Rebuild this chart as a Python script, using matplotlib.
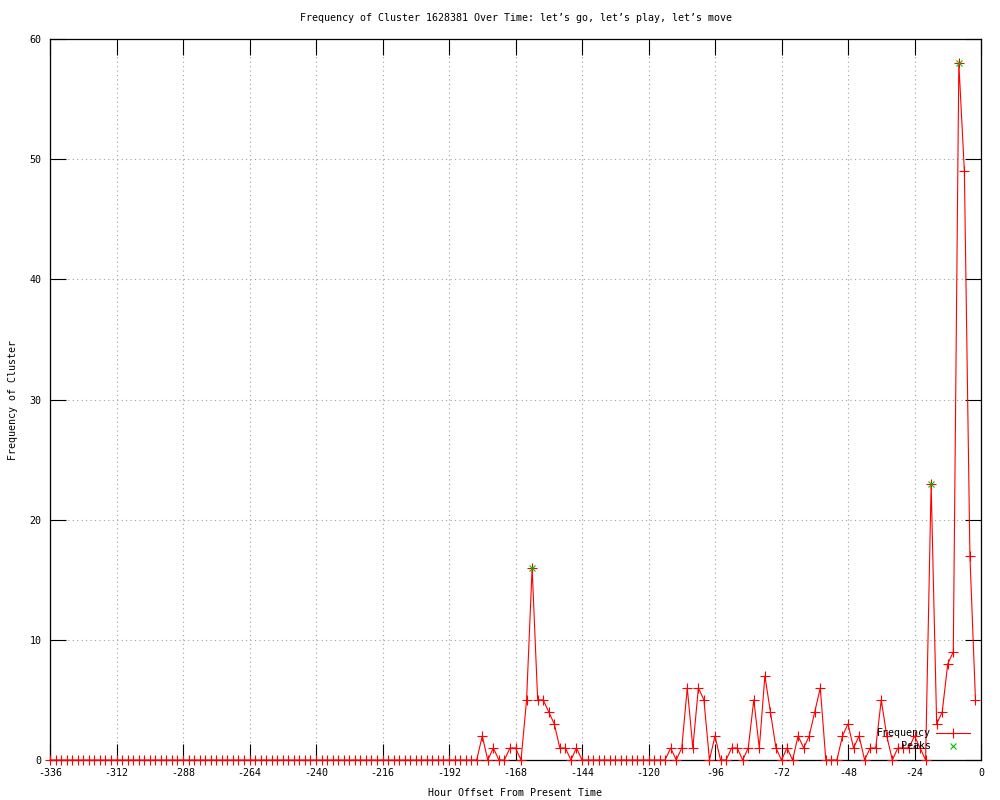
import matplotlib
matplotlib.use("Agg")
import matplotlib.pyplot as plt
import numpy as np

plt.rcParams['font.family'] = ['DejaVu Sans Mono']
plt.rcParams['axes.unicode_minus'] = False

# hours before now, one sample every 2 hours
hours = np.arange(-336, 0, 2)
freq = [
    0, 0, 0, 0, 0, 0, 0, 0, 0, 0, 0, 0, 0,      # -336 .. -312
    0, 0, 0, 0, 0, 0, 0, 0, 0, 0, 0, 0,         # -310 .. -288
    0, 0, 0, 0, 0, 0, 0, 0, 0, 0, 0, 0,         # -286 .. -264
    0, 0, 0, 0, 0, 0, 0, 0, 0, 0, 0, 0,         # -262 .. -240
    0, 0, 0, 0, 0, 0, 0, 0, 0, 0, 0, 0,         # -238 .. -216
    0, 0, 0, 0, 0, 0, 0, 0, 0, 0, 0, 0,         # -214 .. -192
    0, 0, 0, 0, 0,                              # -190 .. -182
    2, 0, 1, 0, 0, 1, 1, 0, 5, 16, 5, 5, 4,     # -180 .. -156
    3, 1, 1, 0, 1, 0,                           # -154 .. -144
    0, 0, 0, 0, 0, 0, 0, 0, 0, 0, 0, 0, 0, 0, 0,  # -142 .. -114
    1, 0, 1, 6, 1, 6, 5, 0, 2, 0, 0, 1, 1,      # -112 .. -88
    0, 1, 5, 1, 7, 4, 1, 0, 1, 0, 2, 1, 2,      # -86 .. -62
    4, 6, 0, 0, 0, 2, 3, 1, 2, 0, 1, 1, 5,      # -60 .. -36
    2, 0, 1, 1, 1, 2, 1, 0, 23, 3, 4, 8, 9,     # -34 .. -10
    58, 49, 17, 5,                              # -8 .. -2
]

peak_hours = [-162, -18, -8]
peak_vals = [16, 23, 58]

title = "Frequency of Cluster 1628381 Over Time: let\u2019s go, let\u2019s play, let\u2019s move"

fs = 7.2
fig = plt.figure(figsize=(10, 8), dpi=100)
ax = fig.add_axes([0.05, 0.05, 0.931, 0.90125])

ax.plot(hours, freq, color='red', lw=0.8, marker='+', ms=6.5, mew=0.8,
        label='Frequency', clip_on=False, zorder=3)
ax.plot(peak_hours, peak_vals, ls='none', color='#00c000', marker='x',
        ms=5, mew=0.8, label='Peaks', zorder=4)

ax.set_xlim(-336, 0)
ax.set_ylim(0, 60)
ax.set_xticks(np.arange(-336, 1, 24))
ax.set_yticks(np.arange(0, 61, 10))
ax.tick_params(direction='in', length=11.5, width=0.8, top=True, right=True,
               labelsize=fs, colors='black')
ax.tick_params(axis='x', pad=6)
ax.tick_params(axis='y', pad=6)
for s in ax.spines.values():
    s.set_linewidth(0.9)
ax.grid(True, color='#a0a0a0', ls=(0, (1, 3)), lw=0.8)
ax.set_axisbelow(True)

leg = ax.legend(loc='lower right', bbox_to_anchor=(0.988, 0.012),
                frameon=False, markerfirst=False, fontsize=fs,
                handlelength=3.4, handletextpad=0.5, labelspacing=0.3,
                borderpad=0, borderaxespad=0)

fig.text(0.5155, 1 - 18 / 800, title, ha='center', va='center', fontsize=fs)
fig.text(0.5155, 1 - 793 / 800, "Hour Offset From Present Time",
         ha='center', va='center', fontsize=fs)
fig.text(13 / 1000, 0.5, "Frequency of Cluster", rotation=90,
         ha='center', va='center', fontsize=fs)

fig.savefig("out.png", dpi=100)
